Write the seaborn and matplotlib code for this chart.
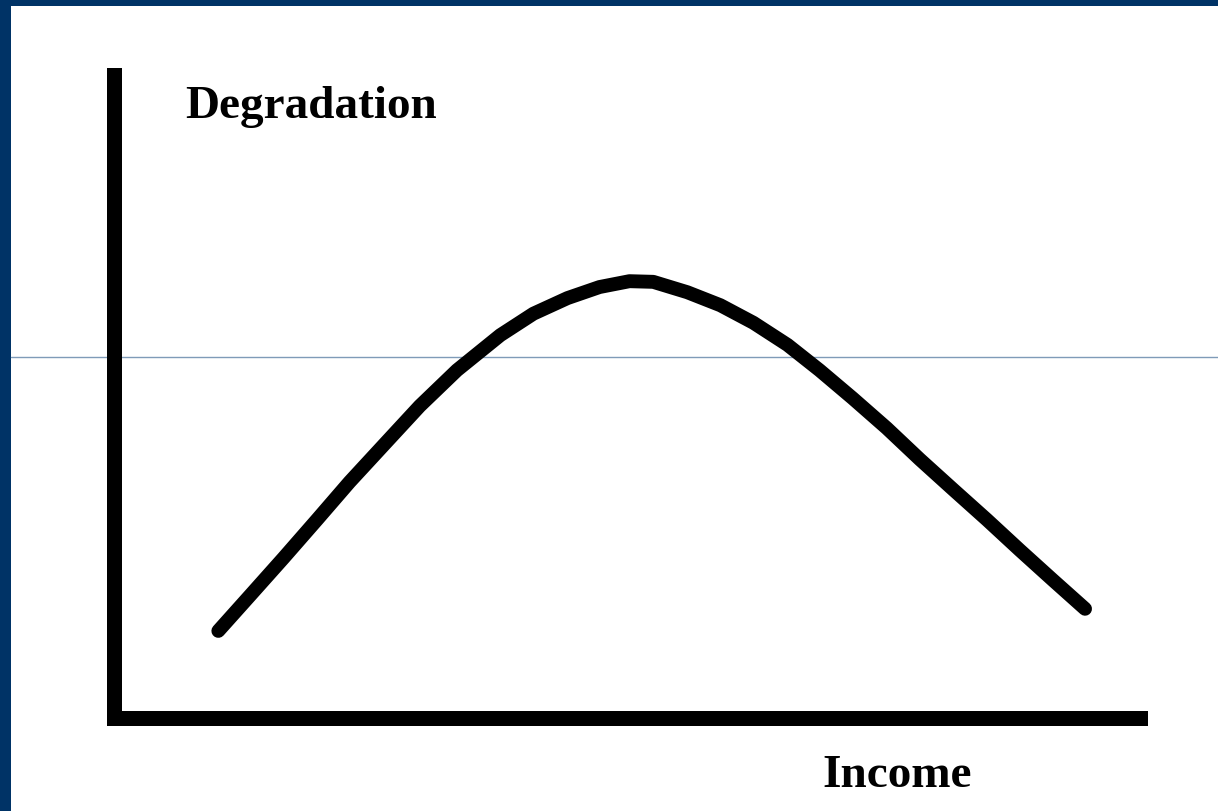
"""Environmental Kuznets-style curve: degradation vs income."""
import matplotlib
matplotlib.use("Agg")
import matplotlib.pyplot as plt
from matplotlib.lines import Line2D
from matplotlib.patches import Rectangle
import pandas as pd
import seaborn as sns

# values (arbitrary units)
income = [1.01, 1.32, 1.64, 1.97, 2.28, 2.64, 2.96, 3.32, 3.74, 4.06, 4.39, 4.70,
          4.99, 5.22, 5.55, 5.87, 6.19, 6.52, 6.83, 7.15, 7.48, 7.80, 8.12, 8.45,
          8.77, 9.09, 9.40]
degradation = [1.34, 1.89, 2.46, 3.06, 3.63, 4.25, 4.80, 5.35, 5.89, 6.22, 6.46, 6.63,
               6.72, 6.71, 6.55, 6.35, 6.08, 5.74, 5.35, 4.92, 4.46, 3.98, 3.52, 3.05,
               2.58, 2.12, 1.68]
x_label = "Income"
y_label = "Degradation"

W, H = 1218, 812
BORDER = "#003366"

sns.set_style("white")
plt.rcParams["font.family"] = ["Liberation Serif", "DejaVu Serif"]

fig = plt.figure(figsize=(W / 100, H / 100), dpi=100)
fig.patch.set_facecolor("white")

# slide frame: dark blue strip on top and left, thin rule across
fig.add_artist(Rectangle((0, 1 - 7 / H), 1, 7 / H, transform=fig.transFigure,
                         color=BORDER, lw=0, zorder=0))
fig.add_artist(Rectangle((0, 0), 11 / W, 1, transform=fig.transFigure,
                         color=BORDER, lw=0, zorder=0))
fig.add_artist(Line2D([11 / W, 1], [1 - 358 / H] * 2, transform=fig.transFigure,
                      color="#7f9bb8", lw=1.0, zorder=0))

ax = fig.add_axes([114 / W, (H - 719) / H, (1140 - 114) / W, (719 - 76) / H])
ax.set_facecolor("none")

df = pd.DataFrame({"income": income, "degradation": degradation})
sns.lineplot(data=df, x="income", y="degradation", sort=False, ax=ax,
             color="black", linewidth=10, solid_capstyle="round",
             solid_joinstyle="round")

ax.set_xlim(0, 9.932)
ax.set_ylim(0, 9.892)
ax.set_xticks([])
ax.set_yticks([])
ax.set_xlabel("")
ax.set_ylabel("")
for side in ("top", "right"):
    ax.spines[side].set_visible(False)
for side in ("left", "bottom"):
    ax.spines[side].set_linewidth(10.8)
    ax.spines[side].set_color("black")
    ax.spines[side].set_capstyle("projecting")

fig.text(185 / W, (H - 118) / H, y_label, fontsize=34, fontweight="bold",
         color="black", va="baseline", ha="left")
fig.text(822 / W, (H - 787) / H, x_label, fontsize=34, fontweight="bold",
         color="black", va="baseline", ha="left")

fig.savefig("out.png", dpi=100)
